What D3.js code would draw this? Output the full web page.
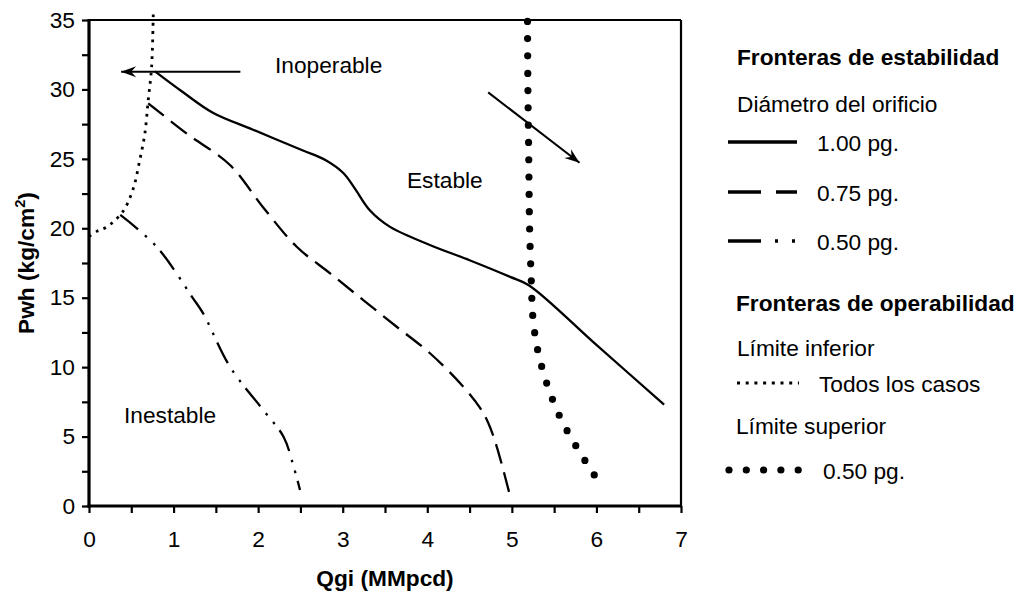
<!DOCTYPE html>
<html><head><meta charset="utf-8">
<script src="https://cdn.jsdelivr.net/npm/d3@7"></script>
<style>
body{margin:0;background:#fff}
svg{display:block}
text{font-family:"Liberation Sans",Arial,sans-serif;fill:#000}
</style>
</head><body>
<svg id="c" width="1024" height="594"></svg>
<script>
// ---- data ----
const xTickValues = [0,0.5,1,1.5,2,2.5,3,3.5,4,4.5,5,5.5,6,6.5,7];
const yTickValues = [0,2.5,5,7.5,10,12.5,15,17.5,20,22.5,25,27.5,30,32.5,35];
const xTickLabels = [0,1,2,3,4,5,6,7];
const yTickLabels = [0,5,10,15,20,25,30,35];

// Fronteras de estabilidad (Qgi MMpcd, Pwh kg/cm2)
const est100 = [[0.78,31.3],[1.1,29.85],[1.47,28.3],[1.94,27.1],[2.53,25.6],[2.8,24.9],[3.01,23.96],[3.15,22.8],[3.32,21.3],[3.56,20.1],[4.03,18.8],[4.5,17.7],[4.98,16.5],[5.2,15.9],[6.0,11.6],[6.8,7.3]];
const est075 = [[0.70,29.0],[1.16,26.8],[1.667,24.56],[2.06,21.5],[2.456,18.67],[2.85,16.76],[3.243,14.83],[3.638,12.91],[4.032,11.0],[4.426,8.59],[4.62,7.1],[4.72,6.0],[4.82,4.3],[4.98,0.7]];
const est050 = [[0.37,20.96],[0.80,18.67],[1.23,14.96],[1.35,13.87],[1.667,10.03],[2.06,6.91],[2.30,4.99],[2.42,2.83],[2.495,1.15]];
// Fronteras de operabilidad
const limInferior = [[0.0,19.4],[0.10,19.8],[0.21,20.1],[0.40,21.2],[0.52,22.8],[0.60,24.9],[0.66,26.8],[0.70,29.2],[0.74,31.6],[0.76,35.5]];
const limSuperior050 = [[5.185,34.9],[5.19,30],[5.20,25],[5.21,20],[5.23,16.2],[5.25,13.5],[5.31,11.1],[5.42,8.7],[5.57,6.4],[5.77,4.2],[6.0,2.0]];

// annotations
const regionLabels = ["Inoperable","Estable","Inestable"];
const regionX = [2.2,3.76,0.414];
const regionY = [31.76,23.48,6.55];
const arrowFrom = [[1.79,31.28],[4.72,29.79]];
const arrowTo = [[0.38,31.28],[5.80,24.72]];

const legendTitles = ["Fronteras de estabilidad","Fronteras de operabilidad"];
const legendStab = ["1.00 pg.","0.75 pg.","0.50 pg."];
const legendOper = ["Límite inferior","Todos los casos","Límite superior","0.50 pg."];

// ---- layout ----
const svg = d3.select("#c");
const x = d3.scaleLinear().domain([0,7]).range([89,681]);
const y = d3.scaleLinear().domain([0,35]).range([506,20]);
const FS = 22.7;

const line = d3.line().x(d=>x(d[0])).y(d=>y(d[1])).curve(d3.curveCatmullRom.alpha(0.5));

// axes
const gx = svg.append("g").attr("transform","translate(0,506)")
  .call(d3.axisBottom(x).tickValues(xTickValues).tickSize(7).tickPadding(18)
    .tickFormat(d => xTickLabels.includes(d) ? d : ""));
const gy = svg.append("g").attr("transform","translate(89,0)")
  .call(d3.axisLeft(y).tickValues(yTickValues).tickSize(7).tickPadding(7)
    .tickFormat(d => yTickLabels.includes(d) ? d : ""));
[gx,gy].forEach(g=>{
  g.select(".domain").remove();
  g.selectAll(".tick line").attr("stroke","#000").attr("stroke-width",2.2);
  g.selectAll(".tick text").attr("font-size",FS).attr("font-family","Liberation Sans, Arial, sans-serif").attr("fill","#000");
});

// frame
svg.append("line").attr("x1",x(0)).attr("x2",x(7)).attr("y1",y(35)).attr("y2",y(35)).attr("stroke","#000").attr("stroke-width",2.2);
svg.append("line").attr("x1",x(7)).attr("x2",x(7)).attr("y1",y(35)).attr("y2",y(0)).attr("stroke","#000").attr("stroke-width",2.2);
svg.append("line").attr("x1",x(0)).attr("x2",x(0)).attr("y1",y(35)-1).attr("y2",y(0)+1.5).attr("stroke","#000").attr("stroke-width",3.2);
svg.append("line").attr("x1",x(0)-1.5).attr("x2",x(7)+1).attr("y1",y(0)).attr("y2",y(0)).attr("stroke","#000").attr("stroke-width",3.2);

// series
const series = [
  {data: est100, dash: null, w: 2.3, cap:"butt"},
  {data: est075, dash: "20 9", w: 2.3, cap:"butt"},
  {data: est050, dash: "23 9 2.5 9 2.5 8", w: 2.3, cap:"butt"},
  {data: limInferior, dash: "2.8 5.5", w: 2.8, cap:"butt"},
  {data: limSuperior050, dash: "0 17.3", w: 7.2, cap:"round"}
];
series.forEach(s=>{
  svg.append("path").attr("d", line(s.data)).attr("fill","none").attr("stroke","#000")
    .attr("stroke-width", s.w).attr("stroke-dasharray", s.dash).attr("stroke-linecap", s.cap);
});

// arrows
const defs = svg.append("defs");
defs.append("marker").attr("id","ah").attr("markerUnits","userSpaceOnUse")
  .attr("viewBox","-16 -8 18 16").attr("refX",0).attr("refY",0)
  .attr("markerWidth",18).attr("markerHeight",16).attr("orient","auto")
  .append("path").attr("d","M0,0 L-15,-5.5 L-10,0 L-15,5.5 Z").attr("fill","#000");
arrowFrom.forEach((f,i)=>{
  svg.append("line").attr("x1",x(f[0])).attr("y1",y(f[1]))
    .attr("x2",x(arrowTo[i][0])).attr("y2",y(arrowTo[i][1]))
    .attr("stroke","#000").attr("stroke-width",2).attr("marker-end","url(#ah)");
});

// region labels
regionLabels.forEach((t,i)=>{
  svg.append("text").attr("x",x(regionX[i])).attr("y",y(regionY[i])).attr("dy","0.35em")
    .attr("font-size",FS).text(t);
});

// axis titles
svg.append("text").attr("x",(x(0)+x(7))/2).attr("y",578).attr("dy","0.35em")
  .attr("text-anchor","middle").attr("font-size",FS).attr("font-weight","bold").text("Qgi (MMpcd)");
const yt = svg.append("text").attr("transform",`translate(26,${(y(0)+y(35))/2}) rotate(-90)`)
  .attr("dy","0.35em").attr("text-anchor","middle").attr("font-size",FS).attr("font-weight","bold");
yt.append("tspan").text("Pwh (kg/cm");
yt.append("tspan").attr("font-size",FS*0.65).attr("dy","-0.6em").text("2");
yt.append("tspan").attr("dy","0.39em").text(")");

// legend
const L = svg.append("g");
function ltext(tx,ty,t,bold){
  L.append("text").attr("x",tx).attr("y",ty).attr("dy","0.35em").attr("font-size",FS)
   .attr("font-weight",bold?"bold":"normal").text(t);
}
ltext(737,57,legendTitles[0],true);
ltext(737,104,"Diámetro del orificio",false);
const stabStyles = [null,"33 15","33 14 3 14 3 20"];
const stabY = [142,192,241];
legendStab.forEach((t,i)=>{
  L.append("line").attr("x1",728).attr("x2",797).attr("y1",stabY[i]).attr("y2",stabY[i])
    .attr("stroke","#000").attr("stroke-width",3.5).attr("stroke-dasharray",stabStyles[i]);
  ltext(817,stabY[i]+1,t,false);
});
ltext(736,303,legendTitles[1],true);
ltext(737,348,legendOper[0],false);
L.append("line").attr("x1",737).attr("x2",799).attr("y1",383).attr("y2",383)
  .attr("stroke","#000").attr("stroke-width",3).attr("stroke-dasharray","3 5.7");
ltext(819,384,legendOper[1],false);
ltext(736,426,legendOper[2],false);
L.append("line").attr("x1",729).attr("x2",798.2).attr("y1",470).attr("y2",470)
  .attr("stroke","#000").attr("stroke-width",7.2).attr("stroke-linecap","round").attr("stroke-dasharray","0 17.3");
ltext(823,471,legendOper[3],false);
</script>
</body></html>
